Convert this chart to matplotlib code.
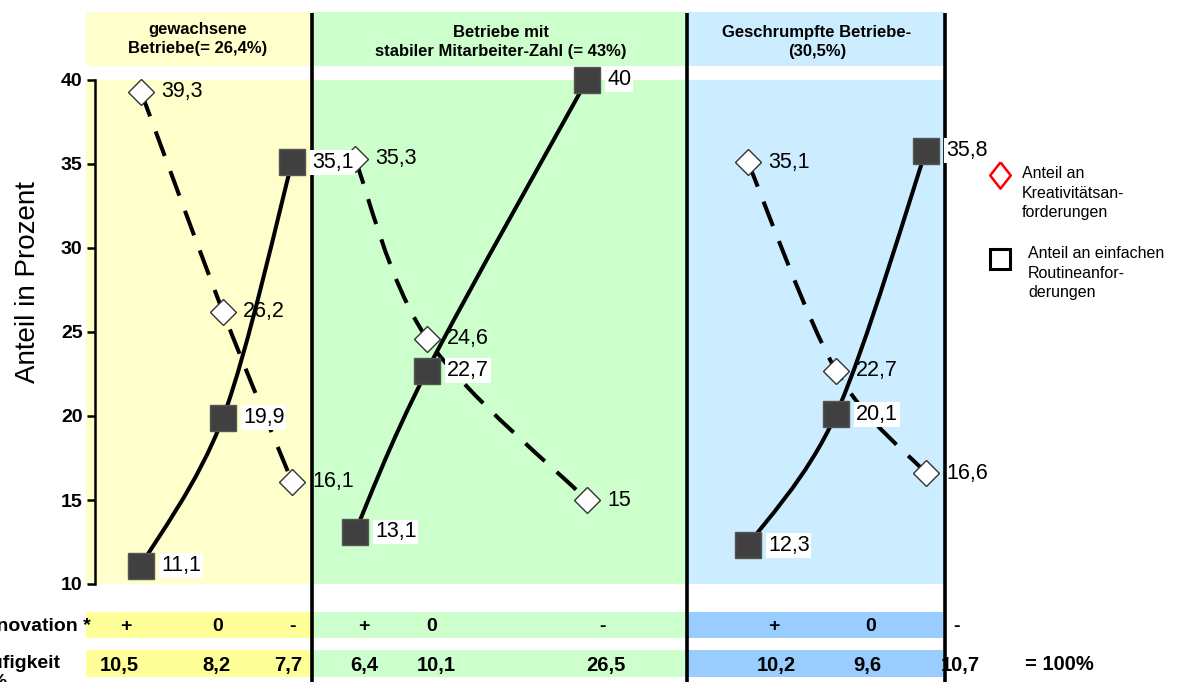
import matplotlib
matplotlib.use("Agg")
import matplotlib.pyplot as plt
from matplotlib.path import Path
from matplotlib.patches import PathPatch, Rectangle
import numpy as np

plt.rcParams['font.family'] = ['Liberation Sans', 'DejaVu Sans']

# ---------------- data ----------------
group_titles = ["gewachsene\nBetriebe(= 26,4%)",
                "Betriebe mit\nstabiler Mitarbeiter-Zahl (= 43%)",
                "Geschrumpfte Betriebe-\n(30,5%)"]
kreativ_gewachsen = [39.3, 26.2, 16.1]
kreativ_stabil = [35.3, 24.6, 15.0]
kreativ_geschrumpft = [35.1, 22.7, 16.6]
routine_gewachsen = [11.1, 19.9, 35.1]
routine_stabil = [13.1, 22.7, 40.0]
routine_geschrumpft = [12.3, 20.1, 35.8]
innovation_labels = ["+", "0", "-"]
haeufigkeit = [[10.5, 8.2, 7.7], [6.4, 10.1, 26.5], [10.2, 9.6, 10.7]]
legend_labels = ["Anteil an\nKreativitätsan-\nforderungen",
                 "Anteil an einfachen\nRoutineanfor-\nderungen"]

# ---------------- layout (pixel based) ----------------
W, H = 1181, 682
PX_PER_UNIT = 16.8
Y40_PX = 80


def py(p):
    """pixel row (from top) -> data y"""
    return 40 - (p - Y40_PX) / PX_PER_UNIT


fig = plt.figure(figsize=(W / 100, H / 100), dpi=100)
ax = fig.add_axes([0, 0, 1, 1])
ax.set_xlim(0, W)
ax.set_ylim(py(H), py(0))

x_positions = [[141, 223, 292], [355, 427, 587], [748, 836, 926]]
panel_edges = [86, 312, 687, 945]
panel_colors = ["#FFFFCC", "#CCFFCC", "#CCECFF"]
strip_colors = ["#FFFF99", "#CCFFCC", "#99CCFF"]
title_x = [198, 501, 817]
title_y = [39, 42, 42]
innov_x = [[126, 218, 292], [364, 432, 603], [774, 871, 957]]
haeuf_x = [[119, 216, 288], [364, 436, 606], [776, 867, 960]]

# panels (header + plot area)
for i in range(3):
    x0, x1 = panel_edges[i], panel_edges[i + 1]
    ax.add_patch(Rectangle((x0, py(66)), x1 - x0, py(12) - py(66),
                           fc=panel_colors[i], ec='none', zorder=0))
    ax.add_patch(Rectangle((x0, 10), x1 - x0, py(80) - 10,
                           fc=panel_colors[i], ec='none', zorder=0))
    ax.text(title_x[i], py(title_y[i]), group_titles[i], ha='center',
            va='center', fontsize=12, fontweight='bold', linespacing=1.4,
            zorder=3)

# bottom strips
strip_edges = [86, 312, 687, 943]
for i in range(3):
    x0, x1 = strip_edges[i], strip_edges[i + 1]
    ax.add_patch(Rectangle((x0, py(638)), x1 - x0, py(612) - py(638),
                           fc=strip_colors[i], ec='none', zorder=0))
    ax.add_patch(Rectangle((x0, py(677)), x1 - x0, py(650) - py(677),
                           fc=strip_colors[i], ec='none', zorder=0))
    for j in range(3):
        ax.text(innov_x[i][j], py(626), innovation_labels[j], ha='center',
                va='center', fontsize=14, fontweight='bold', zorder=3)
        ax.text(haeuf_x[i][j], py(665), f"{haeufigkeit[i][j]:.1f}".replace('.', ','),
                ha='center', va='center', fontsize=14.5, fontweight='bold',
                zorder=3)
ax.text(1059, py(665), "= 100%", ha='center', va='center', fontsize=14.5,
        fontweight='bold')
ax.text(91, py(626), "Innovation *", ha='right', va='center', fontsize=14,
        fontweight='bold')
ax.text(-33, py(673), "Häufigkeit\nin %", ha='left', va='center', fontsize=14,
        fontweight='bold', linespacing=1.15)

# vertical separators
for xv in panel_edges[1:]:
    ax.plot([xv, xv], [py(H), py(13)], color='black', lw=2.6, zorder=2,
            solid_capstyle='butt')


def smooth_path(xs, ys):
    """Excel-like smoothed curve through points, built as Bezier path."""
    P = np.column_stack([np.asarray(xs, float),
                         (40 - np.asarray(ys, float)) * PX_PER_UNIT])
    n = len(P)
    verts = [P[0]]
    codes = [Path.MOVETO]
    for k in range(n - 1):
        p0 = P[k - 1] if k > 0 else P[k]
        p1, p2 = P[k], P[k + 1]
        p3 = P[k + 2] if k + 2 < n else P[k + 1]
        c1 = p1 + (p2 - p0) / 6
        c2 = p2 - (p3 - p1) / 6
        verts += [c1, c2, p2]
        codes += [Path.CURVE4] * 3
    verts = np.array(verts)
    verts[:, 1] = 40 - verts[:, 1] / PX_PER_UNIT
    return Path(verts, codes)


kreativ = [kreativ_gewachsen, kreativ_stabil, kreativ_geschrumpft]
routine = [routine_gewachsen, routine_stabil, routine_geschrumpft]

for i in range(3):
    xs = x_positions[i]
    ax.add_patch(PathPatch(smooth_path(xs, kreativ[i]), fc='none', ec='black',
                           lw=2.9, linestyle=(0, (6.5, 4)), zorder=4,
                           capstyle='butt'))
    ax.add_patch(PathPatch(smooth_path(xs, routine[i]), fc='none', ec='black',
                           lw=2.9, zorder=4, capstyle='butt'))
    ax.plot(xs, kreativ[i], linestyle='none', marker='D', ms=13.2,
            mfc='white', mec='#333333', mew=1.0, zorder=6)
    ax.plot(xs, routine[i], linestyle='none', marker='s', ms=18.5,
            mfc='#404040', mec='#555555', mew=1.0, zorder=6)
    for j in range(3):
        v = kreativ[i][j]
        ax.text(xs[j] + 20, v, (f"{v:g}").replace('.', ','), ha='left',
                va='center', fontsize=15.5, zorder=7)
        v = routine[i][j]
        ax.text(xs[j] + 20, v, (f"{v:g}").replace('.', ','), ha='left',
                va='center', fontsize=15.5, zorder=7,
                bbox=dict(boxstyle='square,pad=0.08', fc='white', ec='none'))

# y axis via the library
for s in ['top', 'right', 'bottom']:
    ax.spines[s].set_visible(False)
ax.spines['left'].set_position(('data', 95))
ax.spines['left'].set_bounds(10, 40)
ax.spines['left'].set_linewidth(1.8)
ax.spines['left'].set_zorder(5)
ax.set_yticks([10, 15, 20, 25, 30, 35, 40])
ax.tick_params(axis='y', direction='out', length=6, width=1.8, labelsize=14,
               pad=3)
for lab in ax.get_yticklabels():
    lab.set_fontweight('bold')
ax.set_xticks([])
ax.text(28, py(282), "Anteil in Prozent", rotation=90, ha='center',
        va='center', fontsize=20)

# legend
diamond = [(0, 1), (0.78, 0), (0, -1), (-0.78, 0), (0, 1)]
ax.plot([1000], [py(175)], marker=diamond, ms=19, mfc='white', mec='red',
        mew=1.8, linestyle='none')
ax.text(1022, py(193), legend_labels[0], ha='left', va='center', fontsize=11.5,
        linespacing=1.4)
ax.plot([1000], [py(259)], marker='s', ms=15, mfc='white', mec='black',
        mew=2.2, linestyle='none')
ax.text(1028, py(273), legend_labels[1], ha='left', va='center', fontsize=11.5,
        linespacing=1.4)

fig.savefig("out.png", dpi=100)
